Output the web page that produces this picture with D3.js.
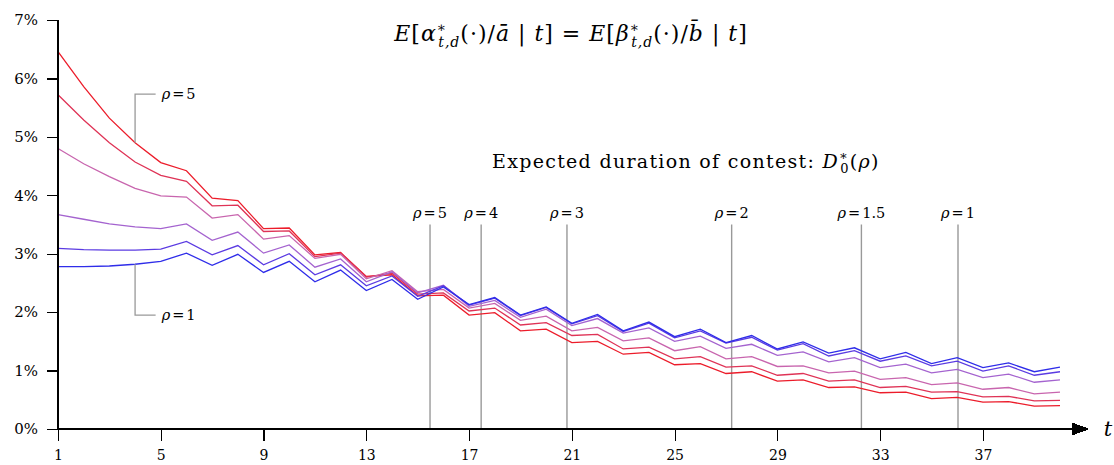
<!DOCTYPE html>
<meta charset="utf-8">
<head>
<meta charset="utf-8">
<title>expected effort</title>
<style>
body { margin: 0; background: #fff; }
svg text { font-family: "DejaVu Serif", "Liberation Serif", serif; fill: #000; }
.axis path, .axis line { stroke: #000; stroke-width: 1.2; shape-rendering: crispEdges; }
.axis text { font-size: 15px; font-family: "DejaVu Serif", serif; }
.series { fill: none; stroke-width: 1.3; }
.dur { stroke: #999; stroke-width: 1.4; }
.lead { fill: none; stroke: #999; stroke-width: 1.3; }
</style>
</head>
<body>
<svg width="1114" height="465"></svg>
<script src="https://d3js.org/d3.v7.min.js"></script>
<script>

// periods t = 1..40
var periods = d3.range(1, 41);

// E[alpha*/abar | t] in percent, one array per rho
var rho5  = [6.46, 5.86, 5.32, 4.90, 4.56, 4.42, 3.95, 3.91, 3.43, 3.44, 2.98, 3.02, 2.61, 2.64, 2.28, 2.29, 1.95, 1.99, 1.68, 1.71,
             1.48, 1.50, 1.28, 1.31, 1.10, 1.12, 0.95, 0.98, 0.82, 0.84, 0.71, 0.72, 0.62, 0.63, 0.52, 0.54, 0.46, 0.47, 0.39, 0.40];
var rho4  = [5.72, 5.29, 4.90, 4.57, 4.34, 4.24, 3.82, 3.83, 3.38, 3.39, 2.95, 3.01, 2.60, 2.67, 2.31, 2.33, 2.02, 2.07, 1.78, 1.82,
             1.60, 1.62, 1.37, 1.40, 1.20, 1.24, 1.06, 1.08, 0.92, 0.95, 0.82, 0.84, 0.71, 0.73, 0.63, 0.64, 0.55, 0.56, 0.48, 0.49];
var rho3  = [4.80, 4.54, 4.32, 4.12, 3.99, 3.97, 3.61, 3.67, 3.25, 3.31, 2.92, 2.99, 2.57, 2.71, 2.35, 2.39, 2.07, 2.15, 1.86, 1.93,
             1.68, 1.74, 1.51, 1.56, 1.34, 1.41, 1.20, 1.24, 1.07, 1.08, 0.96, 0.99, 0.85, 0.88, 0.76, 0.79, 0.68, 0.71, 0.60, 0.63];
var rho2  = [3.67, 3.59, 3.51, 3.46, 3.43, 3.51, 3.23, 3.37, 3.01, 3.15, 2.77, 2.91, 2.52, 2.69, 2.33, 2.46, 2.10, 2.20, 1.91, 2.05,
             1.77, 1.89, 1.64, 1.73, 1.50, 1.59, 1.38, 1.45, 1.26, 1.32, 1.15, 1.22, 1.05, 1.11, 0.96, 1.02, 0.88, 0.94, 0.80, 0.84];
var rho15 = [3.09, 3.07, 3.06, 3.06, 3.08, 3.21, 2.98, 3.14, 2.81, 3.00, 2.64, 2.81, 2.45, 2.62, 2.27, 2.45, 2.12, 2.24, 1.94, 2.08,
             1.80, 1.94, 1.67, 1.81, 1.56, 1.68, 1.47, 1.57, 1.35, 1.46, 1.25, 1.34, 1.16, 1.25, 1.08, 1.16, 0.99, 1.08, 0.92, 0.98];
var rho1  = [2.78, 2.78, 2.79, 2.82, 2.87, 3.01, 2.80, 2.99, 2.68, 2.87, 2.52, 2.72, 2.37, 2.56, 2.22, 2.43, 2.13, 2.25, 1.95, 2.09,
             1.81, 1.96, 1.68, 1.83, 1.58, 1.71, 1.48, 1.60, 1.37, 1.49, 1.30, 1.39, 1.20, 1.31, 1.12, 1.22, 1.05, 1.13, 0.98, 1.06];

var seriesNames  = ["5", "4", "3", "2", "1.5", "1"];
var seriesColors = ["#ec1c2a", "#df3356", "#c865ae", "#a463cf", "#5b3be2", "#2f2de9"];

// expected duration of contest D0*(rho)
var durRho = ["5", "4", "3", "2", "1.5", "1"];
var durT   = [15.48, 17.47, 20.81, 27.22, 32.27, 36.03];

var xTicks = [1, 5, 9, 13, 17, 21, 25, 29, 33, 37];
var yTicks = [0, 1, 2, 3, 4, 5, 6, 7];

var svg = d3.select("svg"),
    margin = {top: 20, right: 54, bottom: 36, left: 58},
    width = +svg.attr("width") - margin.left - margin.right,
    height = +svg.attr("height") - margin.top - margin.bottom,
    g = svg.append("g").attr("transform", "translate(" + margin.left + "," + margin.top + ")");

var x = d3.scaleLinear().domain([1, 40]).range([0, 1002]);
var y = d3.scaleLinear().domain([0, 7]).range([height, 0]);

var data = [rho5, rho4, rho3, rho2, rho15, rho1].map(function(vals, i) {
  return {name: seriesNames[i], color: seriesColors[i],
          values: vals.map(function(v, j) { return {t: periods[j], v: v}; })};
});

function rhoLabel(sel, val) {
  sel.append("tspan").style("font-style", "italic").text("ρ");
  sel.append("tspan").attr("dx", "2").text("=");
  sel.append("tspan").attr("dx", "2").text(val);
}

// duration markers
var dur = g.append("g");
dur.selectAll("line")
  .data(durT)
  .enter().append("line")
    .attr("class", "dur")
    .attr("x1", function(d) { return x(d); })
    .attr("x2", function(d) { return x(d); })
    .attr("y1", y(3.5))
    .attr("y2", height);
dur.selectAll("text")
  .data(durT)
  .enter().append("text")
    .attr("x", function(d) { return x(d); })
    .attr("y", y(3.5) - 7)
    .attr("text-anchor", "middle")
    .style("font-size", "14.5px")
    .each(function(d, i) { rhoLabel(d3.select(this), durRho[i]); });

g.append("text")
    .attr("x", 492 - margin.left)
    .attr("y", 168 - margin.top)
    .style("font-size", "19px")
    .style("letter-spacing", "1.3px")
    .each(function() {
      var t = d3.select(this);
      t.append("tspan").text("Expected duration of contest:  ");
      t.append("tspan").style("font-style", "italic").text("D");
      t.append("tspan").attr("dy", "-8").style("font-size", "13px").text("∗");
      t.append("tspan").attr("dx", "-9").attr("dy", "13").style("font-size", "13px").text("0");
      t.append("tspan").attr("dy", "-5").text("(");
      t.append("tspan").style("font-style", "italic").text("ρ");
      t.append("tspan").text(")");
    });

// lines
var line = d3.line()
    .x(function(d) { return x(d.t); })
    .y(function(d) { return y(d.v); });

g.append("g").selectAll("path")
  .data(data)
  .enter().append("path")
    .attr("class", "series")
    .attr("stroke", function(d) { return d.color; })
    .attr("d", function(d) { return line(d.values); });

// leader labels
var leaders = [{name: "5", t: 4, v: rho5[3], to: 5.73}, {name: "1", t: 4, v: rho1[3], to: 1.95}];
var lead = g.append("g").selectAll("g").data(leaders).enter().append("g");
lead.append("path")
    .attr("class", "lead")
    .attr("d", function(d) {
      return "M" + x(d.t) + "," + y(d.v) + "V" + y(d.to) + "H" + x(4.8);
    });
lead.append("text")
    .attr("x", x(4.8) + 6)
    .attr("y", function(d) { return y(d.to) + 5; })
    .style("font-size", "14.5px")
    .each(function(d) { rhoLabel(d3.select(this), d.name); });

// axes
g.append("g")
    .attr("class", "axis")
    .call(d3.axisLeft(y).tickValues(yTicks).tickSize(11).tickPadding(9)
      .tickFormat(function(d) { return d + "%"; }))
    .call(function(a) { a.select(".domain").attr("d", "M0," + height + "V" + y(7)); });

var xa = g.append("g")
    .attr("class", "axis")
    .attr("transform", "translate(0," + height + ")")
    .call(d3.axisBottom(x).tickValues(xTicks).tickSize(12).tickPadding(9).tickFormat(d3.format("d")));
xa.selectAll(".tick text").style("font-size", "14px");
xa.select(".domain").attr("d", "M0,0H1018");
xa.append("path")
    .attr("d", "M1015,-5.5L1030,0L1015,5.5Z")
    .attr("fill", "#000");
xa.append("text")
    .attr("x", 1050)
    .attr("y", 7)
    .style("font-size", "21px")
    .style("font-style", "italic")
    .text("t");

// title
svg.append("text")
    .attr("x", 571)
    .attr("y", 41)
    .attr("text-anchor", "middle")
    .style("font-size", "22px")
    .style("letter-spacing", "1px")
    .each(function() {
      var t = d3.select(this);
      t.append("tspan").style("font-style", "italic").text("E");
      t.append("tspan").text("[");
      t.append("tspan").style("font-style", "italic").text("α");
      t.append("tspan").attr("dy", "-9").style("font-size", "14px").text("∗");
      t.append("tspan").attr("dx", "-9").attr("dy", "15").style("font-size", "14px").style("font-style", "italic").text("t,d");
      t.append("tspan").attr("dy", "-6").text("(·)/");
      t.append("tspan").style("font-style", "italic").text("ā");
      t.append("tspan").text(" | ");
      t.append("tspan").style("font-style", "italic").text("t");
      t.append("tspan").text("] = ");
      t.append("tspan").style("font-style", "italic").text("E");
      t.append("tspan").text("[");
      t.append("tspan").style("font-style", "italic").text("β");
      t.append("tspan").attr("dy", "-9").style("font-size", "14px").text("∗");
      t.append("tspan").attr("dx", "-9").attr("dy", "15").style("font-size", "14px").style("font-style", "italic").text("t,d");
      t.append("tspan").attr("dy", "-6").text("(·)/");
      t.append("tspan").style("font-style", "italic").text("b\u0304");
      t.append("tspan").text(" | ");
      t.append("tspan").style("font-style", "italic").text("t");
      t.append("tspan").text("]");
    });

</script>
</body>
